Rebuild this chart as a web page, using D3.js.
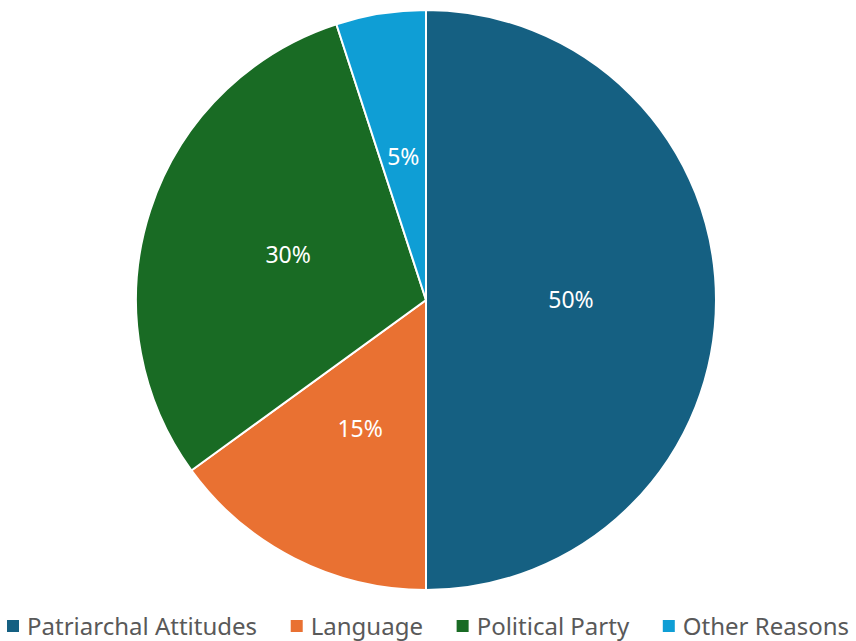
<!DOCTYPE html>
<html>
<head>
<meta charset="utf-8">
<script src="https://cdn.jsdelivr.net/npm/d3@7"></script>
<style>
  body { margin: 0; background: #fff; }
  svg { display: block; }
</style>
</head>
<body>
<div id="chart"></div>
<script>
// data
const categories = ["Patriarchal Attitudes", "Language", "Political Party", "Other Reasons"];
const values = [50, 15, 30, 5];
const colors = ["#156082", "#E97132", "#196B24", "#0F9ED5"];

const width = 856, height = 641;
const cx = 426, cy = 300, radius = 290;

const svg = d3.select("#chart").append("svg")
  .attr("width", width)
  .attr("height", height);

const pie = d3.pie().sort(null).value(d => d.value);
const data = categories.map((c, i) => ({ name: c, value: values[i], color: colors[i] }));

const arc = d3.arc().innerRadius(0).outerRadius(radius);
const labelArc = d3.arc().innerRadius(radius * 0.5).outerRadius(radius * 0.5);

const g = svg.append("g").attr("transform", `translate(${cx},${cy})`);

g.selectAll("path")
  .data(pie(data))
  .join("path")
  .attr("d", arc)
  .attr("fill", d => d.data.color)
  .attr("stroke", "#fff")
  .attr("stroke-width", 2);

// percent labels
g.selectAll(".lbl")
  .data(pie(data))
  .join("text")
  .attr("class", "lbl")
  .attr("transform", d => `translate(${labelArc.centroid(d)})`)
  .attr("text-anchor", "middle")
  .attr("dy", "0.35em")
  .attr("fill", "#fff")
  .style("font-family", "'Noto Sans', 'Open Sans', sans-serif")
  .style("font-size", "23px")
  .text(d => d.data.value + "%");

// legend, laid out by measured text widths and centered
const legend = svg.append("g");
const fontSize = 24, box = 12, boxGap = 8;
const items = legend.selectAll("g")
  .data(data)
  .join("g");

items.append("rect")
  .attr("width", box)
  .attr("height", box)
  .attr("y", -box / 2)
  .attr("fill", d => d.color);

items.append("text")
  .attr("x", box + boxGap)
  .attr("dy", "0.36em")
  .attr("fill", "#595959")
  .style("font-family", "'Noto Sans', 'Open Sans', sans-serif")
  .style("font-size", fontSize + "px")
  .text(d => d.name);

// widths of each item, then spread them across the available 842px
const widths = [];
items.each(function () {
  widths.push(d3.select(this).select("text").node().getComputedTextLength() + box + boxGap);
});
const sumW = d3.sum(widths);
const itemGap = Math.min(34, (842 - sumW) / (data.length - 1));
const total = sumW + itemGap * (data.length - 1);
const startX = (width - total) / 2;
let x = startX;
const offsets = widths.map(w => { const o = x; x += w + itemGap; return o; });
items.attr("transform", (d, i) => `translate(${offsets[i]},626)`);
</script>
</body>
</html>
